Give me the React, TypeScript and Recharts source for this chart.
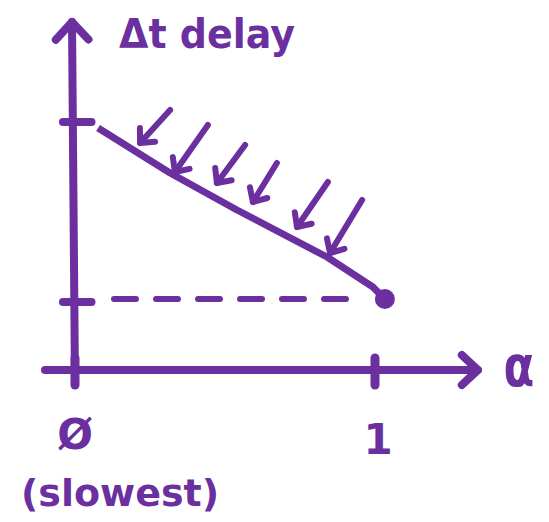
import React from 'react'
import {
  ComposedChart,
  Line,
  XAxis,
  YAxis,
  ReferenceLine,
  ReferenceDot,
} from 'recharts'

const PURPLE = '#6B2FA0'
const FONT = '"DejaVu Sans", sans-serif'

// delay curve (alpha -> delay)
const curveX = [0.077, 0.317, 0.54, 0.84, 0.993, 1.033]
const curveY = [0.976, 0.796, 0.648, 0.46, 0.34, 0.292]

// end point and the dashed floor it sits on
const endPoint = { x: 1.033, y: 0.292 }
const floorFrom = 0.13
const floorTo = 0.95

// axis ticks
const xTicks = [0, 1]
const xTickLabels = ['Ø', '1']
const yTicks = [1.0, 0.28]

// little "pushing down" arrows: tail -> tip
const arrowTailX = [0.317, 0.443, 0.567, 0.673, 0.843, 0.957]
const arrowTailY = [1.048, 0.988, 0.908, 0.836, 0.76, 0.688]
const arrowTipX = [0.217, 0.333, 0.473, 0.593, 0.74, 0.85]
const arrowTipY = [0.916, 0.8, 0.756, 0.68, 0.58, 0.476]

const data = curveX.map((x, i) => ({ x, y: curveY[i] }))

const X_DOMAIN: [number, number] = [-0.25, 1.58]
const Y_DOMAIN: [number, number] = [-0.6, 1.488]

function head(x1: number, y1: number, x2: number, y2: number, len: number, spread: number) {
  const a = Math.atan2(y1 - y2, x1 - x2)
  const l = [x2 + len * Math.cos(a + spread), y2 + len * Math.sin(a + spread)]
  const r = [x2 + len * Math.cos(a - spread), y2 + len * Math.sin(a - spread)]
  return `M${l[0]},${l[1]} L${x2},${y2} L${r[0]},${r[1]}`
}

const ArrowLine = (size: number, width: number) => (props: any) => {
  const { x1, y1, x2, y2 } = props
  if (x1 == null) return null
  return (
    <g stroke={PURPLE} strokeWidth={width} strokeLinecap="round" strokeLinejoin="round" fill="none">
      <line x1={x1} y1={y1} x2={x2} y2={y2} />
      <path d={head(x1, y1, x2, y2, size, 0.75)} />
    </g>
  )
}

const textShape = (value: string, fontSize: number, sx = 1) => (props: any) => (
  <text
    x={props.cx}
    y={props.cy}
    textAnchor="middle"
    dominantBaseline="central"
    fill={PURPLE}
    fontFamily={FONT}
    fontWeight="bold"
    fontSize={fontSize}
    transform={sx !== 1 ? `translate(${props.cx},${props.cy}) scale(${sx},1) translate(${-props.cx},${-props.cy})` : undefined}
  >
    {value}
  </text>
)

export default function App() {
  return (
    <div style={{ position: 'absolute', left: 0, top: 0, background: '#fff' }}>
      <ComposedChart width={549} height={522} data={data} margin={{ top: 0, right: 0, bottom: 0, left: 0 }}>
        <XAxis type="number" dataKey="x" domain={X_DOMAIN} hide allowDataOverflow />
        <YAxis type="number" domain={Y_DOMAIN} hide allowDataOverflow />

        {/* axes */}
        <ReferenceLine
          segment={[{ x: -0.1, y: 0.008 }, { x: 1.343, y: 0.008 }]}
          shape={ArrowLine(22, 8)}
        />
        <ReferenceLine
          segment={[{ x: 0, y: -0.05 }, { x: -0.01, y: 1.4 }]}
          shape={ArrowLine(24, 8)}
        />

        {xTicks.map((t) => (
          <ReferenceLine
            key={`xt${t}`}
            segment={[{ x: t, y: 0.056 }, { x: t, y: -0.052 }]}
            stroke={PURPLE}
            strokeWidth={9}
            strokeLinecap="round"
          />
        ))}
        {yTicks.map((t) => (
          <ReferenceLine
            key={`yt${t}`}
            segment={[{ x: -0.04, y: t }, { x: 0.055, y: t }]}
            stroke={PURPLE}
            strokeWidth={8}
            strokeLinecap="round"
          />
        ))}

        {/* dashed floor */}
        <ReferenceLine
          segment={[{ x: floorFrom, y: endPoint.y }, { x: floorTo, y: endPoint.y }]}
          stroke={PURPLE}
          strokeWidth={6}
          strokeDasharray="22 20"
          strokeLinecap="round"
        />

        <Line
          type="linear"
          dataKey="y"
          stroke={PURPLE}
          strokeWidth={7}
          strokeLinejoin="round"
          dot={false}
          activeDot={false}
          isAnimationActive={false}
        />
        <ReferenceDot x={endPoint.x} y={endPoint.y} r={10} fill={PURPLE} stroke="none" />

        {arrowTipX.map((tx, i) => (
          <ReferenceLine
            key={`a${i}`}
            segment={[{ x: arrowTailX[i], y: arrowTailY[i] }, { x: tx, y: arrowTipY[i] }]}
            shape={ArrowLine(15, 6)}
          />
        ))}

        {/* labels */}
        <ReferenceDot x={0.44} y={1.35} r={1} shape={textShape('Δt delay', 40, 0.95)} />
        <ReferenceDot x={1.48} y={0.02} r={1} shape={textShape('α', 56, 0.8)} />
        {xTicks.map((t, i) => (
          <ReferenceDot key={`xl${t}`} x={t + i * 0.01} y={-0.25 - i * 0.02} r={1} shape={textShape(xTickLabels[i], 42)} />
        ))}
        <ReferenceDot x={0.15} y={-0.484} r={1} shape={textShape('(slowest)', 38)} />
      </ComposedChart>
    </div>
  )
}
